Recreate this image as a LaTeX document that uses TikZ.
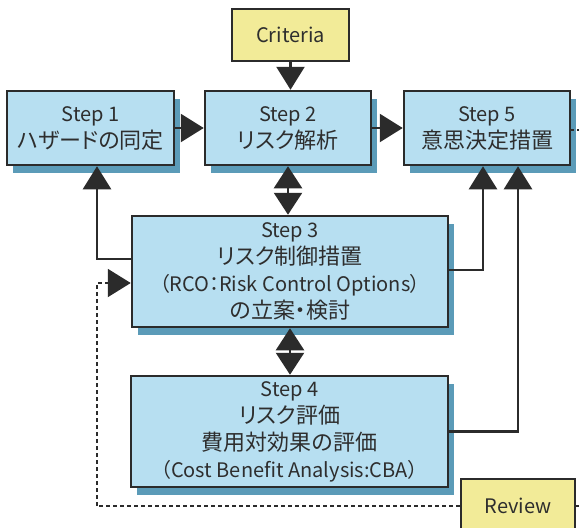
\documentclass[tikz,border=0pt]{standalone}
\usepackage{fontspec}
\setmainfont[RawFeature=+palt]{Noto Sans CJK JP}
\usetikzlibrary{arrows.meta,shadows,positioning}
\definecolor{boxblue}{HTML}{B7DFF1}
\definecolor{shadowblue}{HTML}{5B9BB8}
\definecolor{notebg}{HTML}{F2EB98}
\definecolor{edgegray}{HTML}{2B2B2B}
\definecolor{txtgray}{HTML}{2E2E2E}
\newcommand{\jpline}[1]{{\fontsize{22}{27}\selectfont #1}}
\tikzset{
  stepbox/.style={draw=edgegray, line width=2.5pt, fill=boxblue, text=txtgray,
    align=center, inner sep=0pt, font=\fontsize{20}{27}\selectfont,
    drop shadow={shadow xshift=6pt, shadow yshift=-8pt, fill=shadowblue, opacity=1}},
  notebox/.style={draw=edgegray, line width=2.5pt, fill=notebg, text=txtgray,
    align=center, inner sep=0pt, font=\fontsize{20}{27}\selectfont},
  arr/.style={draw=edgegray, line width=2.5pt, -{Triangle[length=23pt,width=28pt]}},
  dblarr/.style={draw=edgegray, line width=2.5pt,
    {Triangle[length=22pt,width=28pt]}-{Triangle[length=22pt,width=28pt]}},
  fbline/.style={draw=edgegray, line width=2pt, dash pattern=on 4pt off 3pt}
}
\begin{document}
\begin{tikzpicture}[x=1pt,y=-1pt]
  \useasboundingbox (0,0) rectangle (579,528);
  \node[notebox, minimum width=117pt, minimum height=52pt](crit) at (290.5,35){Criteria};
  \node[stepbox, minimum width=167pt, minimum height=74pt](s1) at (90.5,128){Step 1\\\jpline{ハザードの同定}};
  \node[stepbox, minimum width=166pt, minimum height=74pt](s2) at (288,128){Step 2\\\jpline{リスク解析}};
  \node[stepbox, minimum width=166pt, minimum height=74pt](s5) at (487,128){Step 5\\\jpline{意思決定措置}};
  \node[stepbox, minimum width=316pt, minimum height=111pt](s3) at (290,271.5){Step 3\\\jpline{リスク制御措置}\\（RCO：Risk Control Options）\\\jpline{の立案・検討}};
  \node[stepbox, minimum width=317pt, minimum height=111pt](s4) at (289.5,431.5){Step 4\\\jpline{リスク評価}\\\jpline{費用対効果の評価}\\（Cost Benefit Analysis:CBA）};
  \node[notebox, minimum width=114pt, minimum height=54pt](rev) at (518,506){Review};
  \coordinate(fb) at (97,506);
  \coordinate(out5) at (585,130);
  \coordinate(outr) at (585,506);
  \draw[arr](crit.south)--(crit.south |- s2.north);
  \draw[arr](s1.east)--(s2.west);
  \draw[arr](s2.east)--(s5.west);
  \draw[dblarr](s2.south)--(s2.south |- s3.north);
  \draw[dblarr](s3.south)--(s3.south |- s4.north);
  \draw[arr]([yshift=12.5pt]s3.west)-|([xshift=6.5pt]s1.south);
  \draw[arr]([yshift=1.5pt]s3.east)-|([xshift=-4pt]s5.south);
  \draw[arr](s4.east)-|([xshift=31pt]s5.south);
  \draw[fbline](rev.west)--(fb);
  \draw[fbline, -{Triangle[length=23pt,width=28pt]}](fb)|-([yshift=-11.5pt]s3.west);
  \draw[fbline, dash pattern=on 3pt off 3pt]([yshift=-2pt]s5.east)--(out5);
  \draw[fbline](rev.east)--(outr);
\end{tikzpicture}
\end{document}
